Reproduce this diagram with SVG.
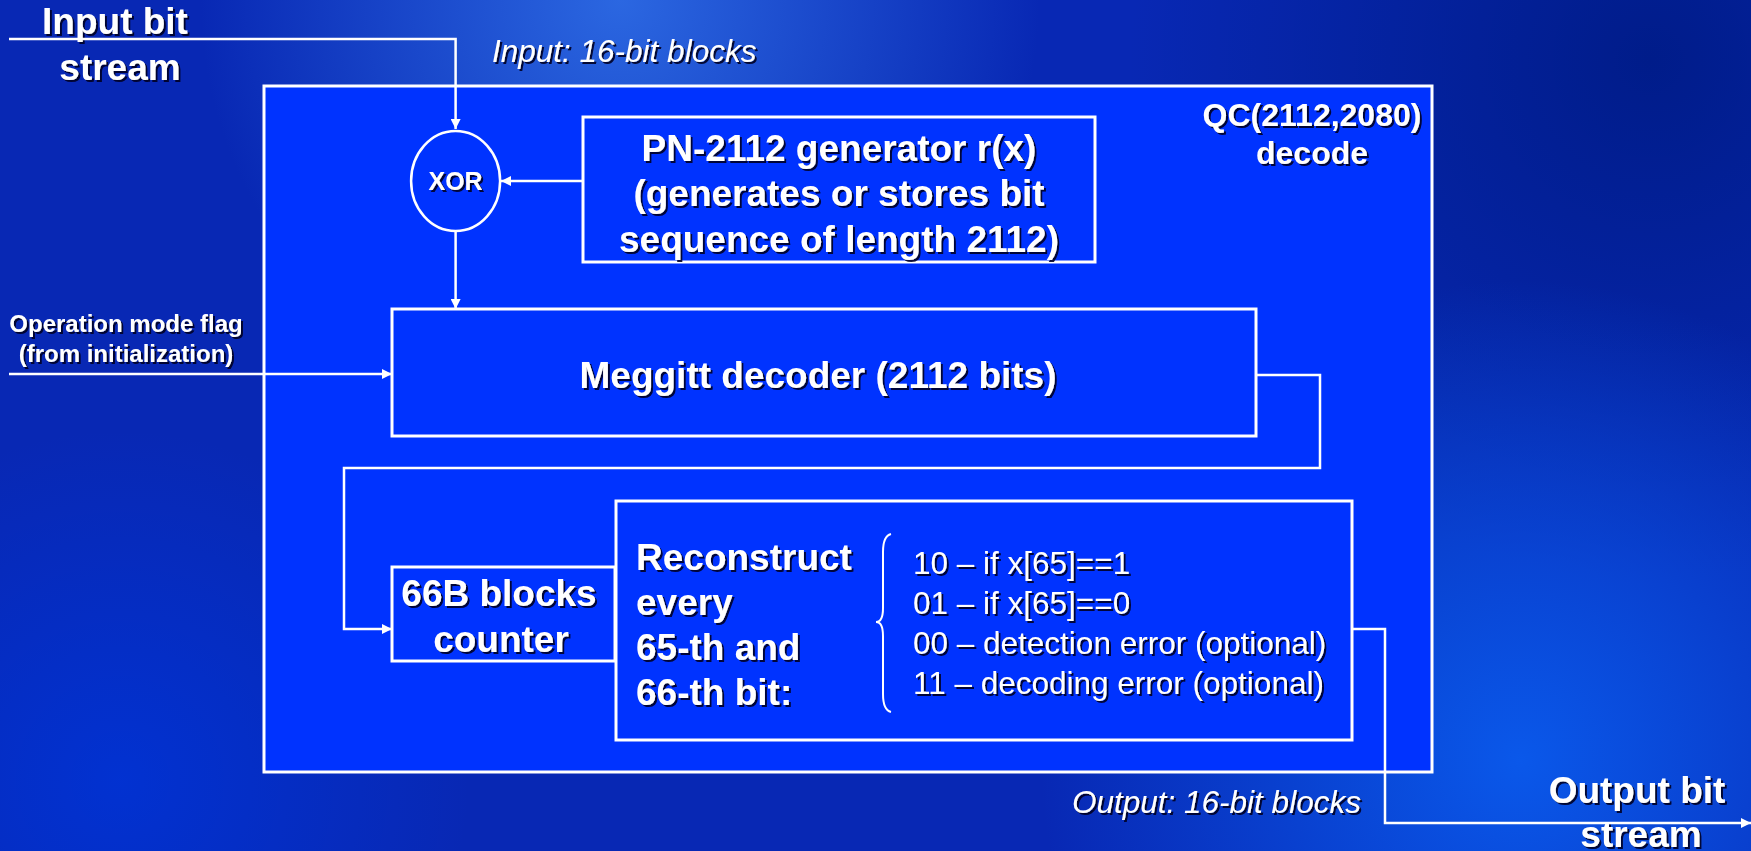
<svg xmlns="http://www.w3.org/2000/svg" width="1751" height="851" viewBox="0 0 1751 851">
<defs>
<radialGradient id="g1" cx="620" cy="0" r="420" gradientUnits="userSpaceOnUse">
<stop offset="0" stop-color="#2f6ee6" stop-opacity="0.9"/><stop offset="1" stop-color="#2f6ee6" stop-opacity="0"/>
</radialGradient>
<radialGradient id="g2" cx="1520" cy="760" r="480" gradientUnits="userSpaceOnUse">
<stop offset="0" stop-color="#0a58ea"/><stop offset="1" stop-color="#0a58ea" stop-opacity="0"/>
</radialGradient>
<radialGradient id="g3" cx="1650" cy="60" r="520" gradientUnits="userSpaceOnUse">
<stop offset="0" stop-color="#001c8a"/><stop offset="1" stop-color="#001c8a" stop-opacity="0"/>
</radialGradient>
<radialGradient id="g4" cx="120" cy="780" r="350" gradientUnits="userSpaceOnUse">
<stop offset="0" stop-color="#0034d8" stop-opacity="0.8"/><stop offset="1" stop-color="#0034d8" stop-opacity="0"/>
</radialGradient>
<filter id="sh" x="-10%" y="-30%" width="130%" height="160%">
<feDropShadow dx="2" dy="2" stdDeviation="0.6" flood-color="#000020" flood-opacity="0.9"/>
</filter>
<marker id="ah" viewBox="0 0 10 10" refX="10" refY="5" markerWidth="10" markerHeight="10" markerUnits="userSpaceOnUse" orient="auto">
<path d="M0,0 L10,5 L0,10 z" fill="#fff"/>
</marker>
<style>
.t{font-family:"Liberation Sans",Arial,sans-serif;fill:#fff;filter:url(#sh)}
.b{font-weight:bold}
.big{font-size:37px}
.c{text-anchor:middle}
.it{font-style:italic;font-size:31.5px}
.lst{font-size:31.5px}
.box{fill:none;stroke:#fff;stroke-width:3}
.ln{fill:none;stroke:#fff;stroke-width:2.5}
</style>
</defs>
<rect width="1751" height="851" fill="#0828b4"/>
<rect width="1751" height="851" fill="url(#g4)"/>
<rect width="1751" height="851" fill="url(#g3)"/>
<rect width="1751" height="851" fill="url(#g1)"/>
<rect width="1751" height="851" fill="url(#g2)"/>

<g id="outer">
<rect x="264" y="86" width="1168" height="686" fill="#0033ff" stroke="#fff" stroke-width="3"/>
<text class="t b c" x="1312" y="126" font-size="32">QC(2112,2080)</text>
<text class="t b c" x="1312" y="164" font-size="32">decode</text>
</g>

<g id="labels">
<text class="t b c big" x="115" y="34">Input bit</text>
<text class="t b c big" x="120" y="80">stream</text>
<text class="t it" x="492" y="62">Input: 16-bit blocks</text>
<text class="t b c" x="126" y="332" font-size="24">Operation mode flag</text>
<text class="t b c" x="126" y="362" font-size="24">(from initialization)</text>
<text class="t it" x="1072" y="813">Output: 16-bit blocks</text>
<text class="t b c big" x="1637" y="803">Output bit</text>
<text class="t b c big" x="1641" y="847">stream</text>
</g>

<g id="connectors">
<path class="ln" d="M9,39 H455.6 V129" marker-end="url(#ah)"/>
<path class="ln" d="M583,181 H501" marker-end="url(#ah)"/>
<path class="ln" d="M455.6,231 V309" marker-end="url(#ah)"/>
<path class="ln" d="M9,374 H392" marker-end="url(#ah)"/>
<path class="ln" d="M1256,375 H1320 V468 H344 V629 H392" marker-end="url(#ah)"/>
<path class="ln" d="M1352,629 H1385 V823 H1751" marker-end="url(#ah)"/>
</g>

<g id="xor">
<ellipse cx="455.6" cy="181" rx="44.5" ry="50" fill="none" stroke="#fff" stroke-width="2.5"/>
<text class="t b c" x="455.6" y="190" font-size="25">XOR</text>
</g>

<g id="pn">
<rect class="box" x="583" y="117" width="512" height="145"/>
<text class="t b c big" x="839" y="161">PN-2112 generator r(x)</text>
<text class="t b c big" x="839" y="206">(generates or stores bit</text>
<text class="t b c big" x="839" y="252">sequence of length 2112)</text>
</g>

<g id="meggitt">
<rect class="box" x="392" y="309" width="864" height="127"/>
<text class="t b c big" x="818" y="388">Meggitt decoder (2112 bits)</text>
</g>

<g id="counter">
<rect class="box" x="392" y="567" width="223" height="94"/>
<text class="t b c big" x="499" y="606">66B blocks</text>
<text class="t b c big" x="501" y="652">counter</text>
</g>

<g id="reconstruct">
<rect class="box" x="616" y="501" width="736" height="239"/>
<text class="t b big" x="636" y="570">Reconstruct</text>
<text class="t b big" x="636" y="615">every</text>
<text class="t b big" x="636" y="660">65-th and</text>
<text class="t b big" x="636" y="705">66-th bit:</text>
<path d="M891,534 Q883,536 883,552 L883,608 Q883,622 876,622 Q883,622 883,636 L883,694 Q883,710 891,712" fill="none" stroke="#fff" stroke-width="2"/>
<text class="t lst" x="913" y="574">10 – if x[65]==1</text>
<text class="t lst" x="913" y="614">01 – if x[65]==0</text>
<text class="t lst" x="913" y="654">00 – detection error (optional)</text>
<text class="t lst" x="913" y="694">11 – decoding error (optional)</text>
</g>
</svg>
